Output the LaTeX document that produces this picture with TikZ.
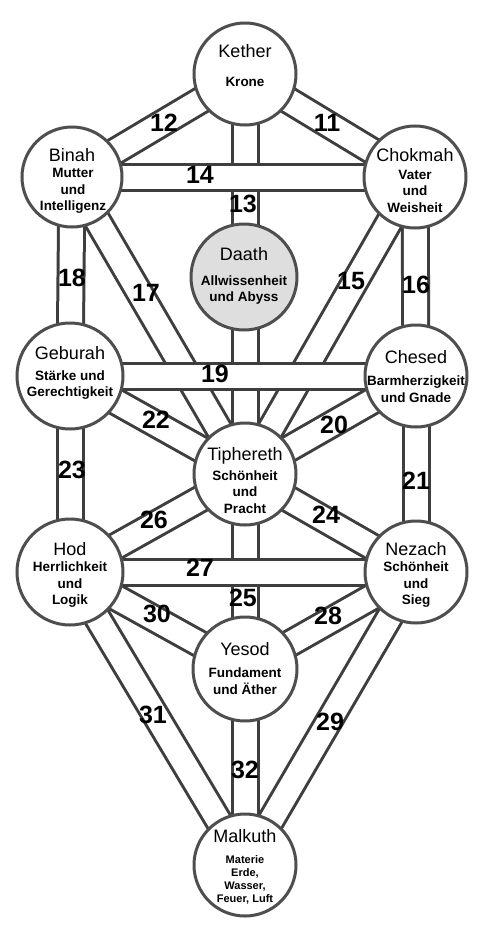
\documentclass[tikz,border=0pt]{standalone}
\usepackage{fontspec}
\setmainfont{Liberation Sans}
\usetikzlibrary{backgrounds}
\definecolor{linec}{RGB}{62,62,62}
\definecolor{circc}{RGB}{78,78,78}
\definecolor{daathfill}{RGB}{222,222,222}
\begin{document}
\begin{tikzpicture}[x=1pt,y=-1pt,
  seph/.style={circle, draw=circc, line width=3pt, fill=white, minimum size=102pt, inner sep=0pt},
  nm/.style={font=\fontsize{18}{20}\selectfont, inner sep=0pt, text=black},
  sub/.style={font=\bfseries\fontsize{13.5}{16.5}\selectfont, align=center, inner sep=0pt, text=black},
  num/.style={font=\bfseries\fontsize{25}{27}\selectfont, inner sep=0pt, text=black},
  chdark/.style={line width=29pt, draw=linec},
  chwhite/.style={line width=23pt, draw=white}]
\useasboundingbox (0,0) rectangle (484,934);

% Sephiroth
\node[seph] (kether) at (245,74) {};
\node[seph, minimum size=100pt] (binah) at (72,177) {};
\node[seph] (chokmah) at (415,177) {};
\node[seph, minimum size=106pt, fill=daathfill] (daath) at (244,277) {};
\node[seph, minimum size=106pt] (geburah) at (70,376) {};
\node[seph] (chesed) at (416,376) {};
\node[seph] (tiph) at (245,474) {};
\node[seph, minimum size=106pt] (hod) at (70,572) {};
\node[seph] (nezach) at (416,572) {};
\node[seph, minimum size=104pt] (yesod) at (245,669) {};
\node[seph] (malkuth) at (245,865) {};

% Channels
\begin{scope}[on background layer]
  \fill[white] (0,0) rectangle (484,934);
  \foreach \a/\b in {kether/binah, kether/chokmah, kether/tiph, chokmah/tiph,
      chokmah/chesed, binah/tiph, binah/geburah, chesed/tiph, chesed/nezach,
      geburah/tiph, geburah/hod, nezach/tiph, tiph/yesod, hod/tiph, nezach/yesod,
      nezach/malkuth, hod/yesod, hod/malkuth, yesod/malkuth}
    \draw[chdark] (\a.center) -- (\b.center);
  \foreach \a/\b in {kether/binah, kether/chokmah, kether/tiph, chokmah/tiph,
      chokmah/chesed, binah/tiph, binah/geburah, chesed/tiph, chesed/nezach,
      geburah/tiph, geburah/hod, nezach/tiph, tiph/yesod, hod/tiph, nezach/yesod,
      nezach/malkuth, hod/yesod, hod/malkuth, yesod/malkuth}
    \draw[chwhite] (\a.center) -- (\b.center);
  \foreach \a/\b in {binah/chokmah, geburah/chesed, hod/nezach}
    \draw[chdark] (\a.center) -- (\b.center);
  \foreach \a/\b in {binah/chokmah, geburah/chesed, hod/nezach}
    \draw[chwhite] (\a.center) -- (\b.center);
\end{scope}

% Texts
\node[nm] (kether-n) at (245,51) {Kether};
\node[sub] (kether-s) at (245,82) {Krone};
\node[nm] (binah-n) at (72,155) {Binah};
\node[sub] (binah-s) at (73,191) {Mutter\\und\\Intelligenz};
\node[nm] (chokmah-n) at (415,155) {Chokmah};
\node[sub] (chokmah-s) at (415,191) {Vater\\und\\Weisheit};
\node[nm] (daath-n) at (244,254) {Daath};
\node[sub] (daath-s) at (244,290) {Allwissenheit\\und Abyss};
\node[nm] (geburah-n) at (70,353) {Geburah};
\node[sub] (geburah-s) at (70,385) {Stärke und\\Gerechtigkeit};
\node[nm] (chesed-n) at (416,357) {Chesed};
\node[sub] (chesed-s) at (416,389) {Barmherzigkeit\\und Gnade};
\node[nm] (tiph-n) at (245,456) {Tiphereth};
\node[sub] (tiph-s) at (245,492) {Schönheit\\und\\Pracht};
\node[nm] (hod-n) at (70,549) {Hod};
\node[sub] (hod-s) at (70,585) {Herrlichkeit\\und\\Logik};
\node[nm] (nezach-n) at (416,549) {Nezach};
\node[sub] (nezach-s) at (416,585) {Schönheit\\und\\Sieg};
\node[nm] (yesod-n) at (245,649) {Yesod};
\node[sub] (yesod-s) at (245,681) {Fundament\\und Äther};
\node[nm] (malkuth-n) at (245,836) {Malkuth};
\node[sub, font=\bfseries\fontsize{11}{13}\selectfont] (malkuth-s) at (245,880) {Materie\\Erde,\\Wasser,\\Feuer, Luft};

% Path numbers
\node[num] (p11) at (327,123) {11};
\node[num] (p12) at (164,123) {12};
\node[num] (p13) at (243,204) {13};
\node[num] (p14) at (200,175) {14};
\node[num] (p15) at (351,281) {15};
\node[num] (p16) at (416,285) {16};
\node[num] (p17) at (146,293) {17};
\node[num] (p18) at (72,278) {18};
\node[num] (p19) at (215,374) {19};
\node[num] (p20) at (334,425) {20};
\node[num] (p21) at (416,481) {21};
\node[num] (p22) at (156,420) {22};
\node[num] (p23) at (72,470) {23};
\node[num] (p24) at (326,515) {24};
\node[num] (p25) at (243,598) {25};
\node[num] (p26) at (154,520) {26};
\node[num] (p27) at (200,568) {27};
\node[num] (p28) at (328,616) {28};
\node[num] (p29) at (330,722) {29};
\node[num] (p30) at (157,614) {30};
\node[num] (p31) at (153,715) {31};
\node[num] (p32) at (245,770) {32};
\end{tikzpicture}
\end{document}
